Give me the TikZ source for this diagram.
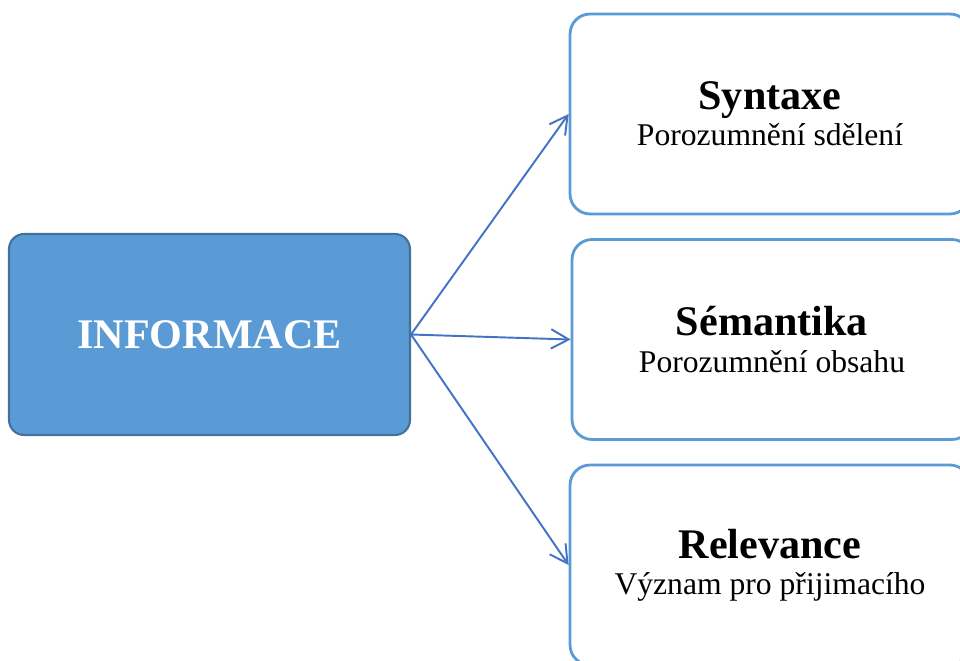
\documentclass[tikz,border=0pt]{standalone}
\usepackage{fontspec}
\setmainfont{Liberation Serif}
\usetikzlibrary{arrows.meta}
\definecolor{boxblue}{HTML}{5B9BD5}
\definecolor{infoedge}{HTML}{41719C}
\definecolor{arrowblue}{HTML}{4472C4}

\begin{document}
\begin{tikzpicture}[x=0.02cm, y=-0.02cm,
  infobox/.style={draw=infoedge, line width=1.2pt, fill=boxblue, rounded corners=0.3cm,
    minimum width=8.02cm, minimum height=4.02cm, text=white,
    font=\fontsize{24}{28}\selectfont\bfseries},
  topicbox/.style={draw=boxblue, line width=1.6pt, fill=white, rounded corners=0.4cm,
    minimum width=8cm, minimum height=4cm, align=center,
    font=\fontsize{18}{20.6}\selectfont},
  link/.style={draw=arrowblue, line width=1.1pt, -{Straight Barb[length=10pt, width=11pt]}}]
  \useasboundingbox (0,0) rectangle (960,660);
  \clip (0,0) rectangle (960,660);

  % Source box
  \node[infobox] (info) at (209.5,334.5) {INFORMACE};

  % Target boxes
  \node[topicbox] (syntax) at (770,114)
    {{\fontsize{24}{28}\selectfont\bfseries Syntaxe}\\Porozumnění sdělení};
  \node[topicbox] (semantics) at (772,339.5)
    {{\fontsize{24}{28}\selectfont\bfseries Sémantika}\\Porozumnění obsahu};
  \node[topicbox] (relevance) at (770,565)
    {{\fontsize{24}{28}\selectfont\bfseries Relevance}\\Význam pro přijimacího};

  % Arrows
  \draw[link] (info.east) -- (syntax.west);
  \draw[link] (info.east) -- (semantics.west);
  \draw[link] (info.east) -- (relevance.west);
\end{tikzpicture}
\end{document}
